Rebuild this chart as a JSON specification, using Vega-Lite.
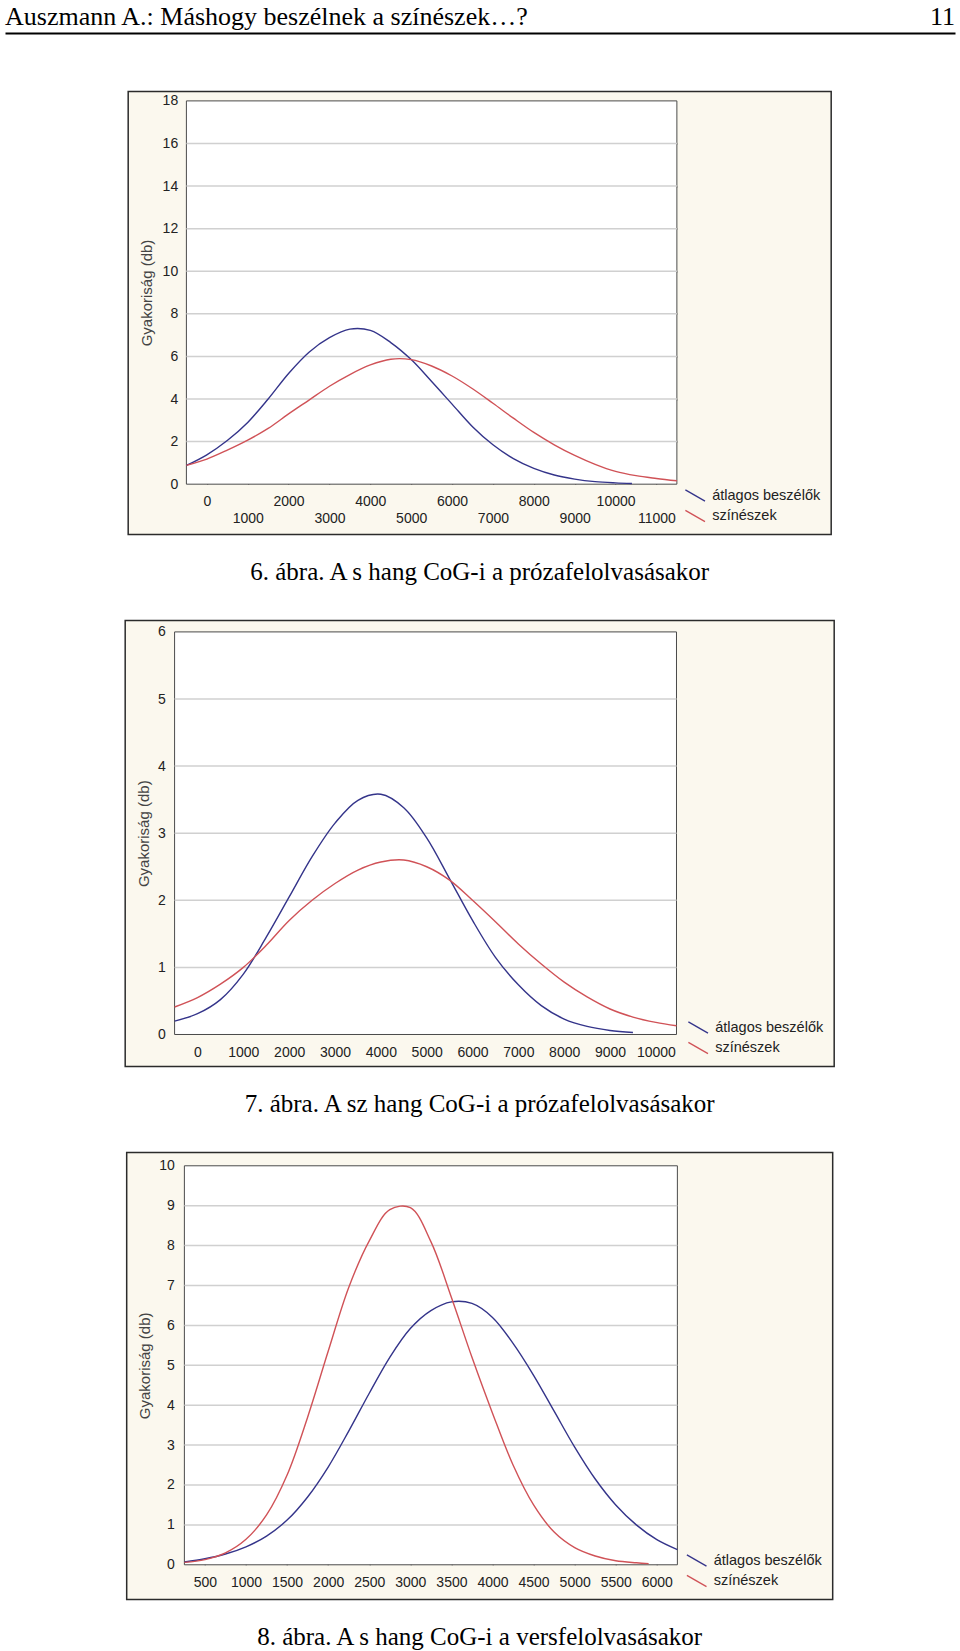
{
  "$schema": "https://vega.github.io/schema/vega-lite/v6.json",
  "background": "white",
  "padding": {"left": 5, "right": 5, "top": 0, "bottom": 0},
  "config": {
    "view": {"stroke": null},
    "axis": {"labelFont": "Liberation Sans", "titleFont": "Liberation Sans", "zindex": 1},
    "title": {"font": "Liberation Serif", "fontSize": 25, "fontWeight": "normal", "color": "#000000", "orient": "bottom", "anchor": "middle", "offset": 25},
    "legend": {"orient": "bottom-right", "offset": 10, "padding": 0, "symbolType": "M-1.4,-0.8L1.4,0.8", "symbolSize": 196, "symbolStrokeWidth": 1.3, "labelFont": "Liberation Sans", "labelFontSize": 14.5, "labelColor": "#222222", "labelOffset": 9, "rowPadding": 2.5}
  },
  "datasets": {
    "c1": [
      {"series": "átlagos beszélők", "freq": -500, "value": 0.88},
      {"series": "átlagos beszélők", "freq": 0, "value": 1.38},
      {"series": "átlagos beszélők", "freq": 500, "value": 2.05},
      {"series": "átlagos beszélők", "freq": 1000, "value": 2.9},
      {"series": "átlagos beszélők", "freq": 1500, "value": 4.0},
      {"series": "átlagos beszélők", "freq": 2000, "value": 5.2},
      {"series": "átlagos beszélők", "freq": 2500, "value": 6.2},
      {"series": "átlagos beszélők", "freq": 3000, "value": 6.88},
      {"series": "átlagos beszélők", "freq": 3500, "value": 7.28},
      {"series": "átlagos beszélők", "freq": 4000, "value": 7.22},
      {"series": "átlagos beszélők", "freq": 4500, "value": 6.65},
      {"series": "átlagos beszélők", "freq": 5000, "value": 5.85},
      {"series": "átlagos beszélők", "freq": 5500, "value": 4.82},
      {"series": "átlagos beszélők", "freq": 6000, "value": 3.76},
      {"series": "átlagos beszélők", "freq": 6500, "value": 2.7},
      {"series": "átlagos beszélők", "freq": 7000, "value": 1.85},
      {"series": "átlagos beszélők", "freq": 7500, "value": 1.2},
      {"series": "átlagos beszélők", "freq": 8000, "value": 0.74},
      {"series": "átlagos beszélők", "freq": 8500, "value": 0.43},
      {"series": "átlagos beszélők", "freq": 9000, "value": 0.24},
      {"series": "átlagos beszélők", "freq": 9500, "value": 0.12},
      {"series": "átlagos beszélők", "freq": 10000, "value": 0.06},
      {"series": "átlagos beszélők", "freq": 10400, "value": 0.03},
      {"series": "színészek", "freq": -500, "value": 0.88},
      {"series": "színészek", "freq": 0, "value": 1.18},
      {"series": "színészek", "freq": 500, "value": 1.6},
      {"series": "színészek", "freq": 1000, "value": 2.07},
      {"series": "színészek", "freq": 1500, "value": 2.62},
      {"series": "színészek", "freq": 2000, "value": 3.3},
      {"series": "színészek", "freq": 2500, "value": 3.95},
      {"series": "színészek", "freq": 3000, "value": 4.6},
      {"series": "színészek", "freq": 3500, "value": 5.15},
      {"series": "színészek", "freq": 4000, "value": 5.6},
      {"series": "színészek", "freq": 4500, "value": 5.87},
      {"series": "színészek", "freq": 5000, "value": 5.85},
      {"series": "színészek", "freq": 5500, "value": 5.55},
      {"series": "színészek", "freq": 6000, "value": 5.08},
      {"series": "színészek", "freq": 6500, "value": 4.48},
      {"series": "színészek", "freq": 7000, "value": 3.8},
      {"series": "színészek", "freq": 7500, "value": 3.1},
      {"series": "színészek", "freq": 8000, "value": 2.43},
      {"series": "színészek", "freq": 8500, "value": 1.85},
      {"series": "színészek", "freq": 9000, "value": 1.35},
      {"series": "színészek", "freq": 9500, "value": 0.93},
      {"series": "színészek", "freq": 10000, "value": 0.6},
      {"series": "színészek", "freq": 10500, "value": 0.4},
      {"series": "színészek", "freq": 11000, "value": 0.27},
      {"series": "színészek", "freq": 11500, "value": 0.16}
    ],
    "c2": [
      {"series": "átlagos beszélők", "freq": -500, "value": 0.2},
      {"series": "átlagos beszélők", "freq": 0, "value": 0.31},
      {"series": "átlagos beszélők", "freq": 500, "value": 0.52},
      {"series": "átlagos beszélők", "freq": 1000, "value": 0.9},
      {"series": "átlagos beszélők", "freq": 1500, "value": 1.45},
      {"series": "átlagos beszélők", "freq": 2000, "value": 2.05},
      {"series": "átlagos beszélők", "freq": 2500, "value": 2.65},
      {"series": "átlagos beszélők", "freq": 3000, "value": 3.15},
      {"series": "átlagos beszélők", "freq": 3500, "value": 3.49},
      {"series": "átlagos beszélők", "freq": 4000, "value": 3.58},
      {"series": "átlagos beszélők", "freq": 4500, "value": 3.38},
      {"series": "átlagos beszélők", "freq": 5000, "value": 2.93},
      {"series": "átlagos beszélők", "freq": 5500, "value": 2.32},
      {"series": "átlagos beszélők", "freq": 6000, "value": 1.7},
      {"series": "átlagos beszélők", "freq": 6500, "value": 1.15},
      {"series": "átlagos beszélők", "freq": 7000, "value": 0.74},
      {"series": "átlagos beszélők", "freq": 7500, "value": 0.43},
      {"series": "átlagos beszélők", "freq": 8000, "value": 0.23},
      {"series": "átlagos beszélők", "freq": 8500, "value": 0.12},
      {"series": "átlagos beszélők", "freq": 9000, "value": 0.06},
      {"series": "átlagos beszélők", "freq": 9500, "value": 0.03},
      {"series": "színészek", "freq": -500, "value": 0.41},
      {"series": "színészek", "freq": 0, "value": 0.55},
      {"series": "színészek", "freq": 500, "value": 0.75},
      {"series": "színészek", "freq": 1000, "value": 1.0},
      {"series": "színészek", "freq": 1500, "value": 1.33},
      {"series": "színészek", "freq": 2000, "value": 1.7},
      {"series": "színészek", "freq": 2500, "value": 2.0},
      {"series": "színészek", "freq": 3000, "value": 2.25},
      {"series": "színészek", "freq": 3500, "value": 2.45},
      {"series": "színészek", "freq": 4000, "value": 2.57},
      {"series": "színészek", "freq": 4500, "value": 2.6},
      {"series": "színészek", "freq": 5000, "value": 2.5},
      {"series": "színészek", "freq": 5500, "value": 2.3},
      {"series": "színészek", "freq": 6000, "value": 2.0},
      {"series": "színészek", "freq": 6500, "value": 1.68},
      {"series": "színészek", "freq": 7000, "value": 1.35},
      {"series": "színészek", "freq": 7500, "value": 1.05},
      {"series": "színészek", "freq": 8000, "value": 0.78},
      {"series": "színészek", "freq": 8500, "value": 0.56},
      {"series": "színészek", "freq": 9000, "value": 0.38},
      {"series": "színészek", "freq": 9500, "value": 0.26},
      {"series": "színészek", "freq": 10000, "value": 0.18},
      {"series": "színészek", "freq": 10450, "value": 0.13}
    ],
    "c3": [
      {"series": "átlagos beszélők", "freq": 250, "value": 0.07},
      {"series": "átlagos beszélők", "freq": 500, "value": 0.15},
      {"series": "átlagos beszélők", "freq": 750, "value": 0.27},
      {"series": "átlagos beszélők", "freq": 1000, "value": 0.45},
      {"series": "átlagos beszélők", "freq": 1250, "value": 0.72},
      {"series": "átlagos beszélők", "freq": 1500, "value": 1.12},
      {"series": "átlagos beszélők", "freq": 1750, "value": 1.7},
      {"series": "átlagos beszélők", "freq": 2000, "value": 2.45},
      {"series": "átlagos beszélők", "freq": 2250, "value": 3.35},
      {"series": "átlagos beszélők", "freq": 2500, "value": 4.3},
      {"series": "átlagos beszélők", "freq": 2750, "value": 5.2},
      {"series": "átlagos beszélők", "freq": 3000, "value": 5.92},
      {"series": "átlagos beszélők", "freq": 3250, "value": 6.37},
      {"series": "átlagos beszélők", "freq": 3500, "value": 6.59},
      {"series": "átlagos beszélők", "freq": 3750, "value": 6.55},
      {"series": "átlagos beszélők", "freq": 4000, "value": 6.2},
      {"series": "átlagos beszélők", "freq": 4250, "value": 5.55},
      {"series": "átlagos beszélők", "freq": 4500, "value": 4.75},
      {"series": "átlagos beszélők", "freq": 4750, "value": 3.85},
      {"series": "átlagos beszélők", "freq": 5000, "value": 2.95},
      {"series": "átlagos beszélők", "freq": 5250, "value": 2.15},
      {"series": "átlagos beszélők", "freq": 5500, "value": 1.5},
      {"series": "átlagos beszélők", "freq": 5750, "value": 1.0},
      {"series": "átlagos beszélők", "freq": 6000, "value": 0.63},
      {"series": "átlagos beszélők", "freq": 6250, "value": 0.38},
      {"series": "színészek", "freq": 250, "value": 0.06},
      {"series": "színészek", "freq": 500, "value": 0.13},
      {"series": "színészek", "freq": 750, "value": 0.3},
      {"series": "színészek", "freq": 1000, "value": 0.64},
      {"series": "színészek", "freq": 1250, "value": 1.25},
      {"series": "színészek", "freq": 1500, "value": 2.25},
      {"series": "színészek", "freq": 1750, "value": 3.7},
      {"series": "színészek", "freq": 2000, "value": 5.35},
      {"series": "színészek", "freq": 2250, "value": 6.95},
      {"series": "színészek", "freq": 2500, "value": 8.12},
      {"series": "színészek", "freq": 2750, "value": 8.9},
      {"series": "színészek", "freq": 3000, "value": 8.95},
      {"series": "színészek", "freq": 3250, "value": 8.1},
      {"series": "színészek", "freq": 3500, "value": 6.7},
      {"series": "színészek", "freq": 3750, "value": 5.2},
      {"series": "színészek", "freq": 4000, "value": 3.8},
      {"series": "színészek", "freq": 4250, "value": 2.5},
      {"series": "színészek", "freq": 4500, "value": 1.5},
      {"series": "színészek", "freq": 4750, "value": 0.82},
      {"series": "színészek", "freq": 5000, "value": 0.43},
      {"series": "színészek", "freq": 5250, "value": 0.22},
      {"series": "színészek", "freq": 5500, "value": 0.1},
      {"series": "színészek", "freq": 5750, "value": 0.05},
      {"series": "színészek", "freq": 5900, "value": 0.03}
    ]
  },
  "spacing": 57.5,
  "center": true,
  "resolve": {"legend": {"color": "independent"}},
  "vconcat": [
    {
      "width": 950,
      "height": 25,
      "layer": [
        {
          "data": {"values": [{"t": "Auszmann A.: Máshogy beszélnek a színészek…?"}]},
          "mark": {"type": "text", "align": "left", "baseline": "alphabetic", "font": "Liberation Serif", "fontSize": 26, "color": "#000000"},
          "encoding": {
            "text": {"field": "t", "type": "nominal"},
            "x": {"datum": 0, "type": "quantitative", "scale": {"domain": [0, 1], "nice": false, "zero": false}, "axis": {"orient": "bottom", "offset": 8, "domain": true, "domainColor": "#000000", "domainWidth": 2, "ticks": false, "labels": false, "grid": false, "title": null}},
            "y": {"datum": 0, "type": "quantitative", "scale": {"domain": [0, 1], "nice": false}, "axis": null}
          }
        },
        {
          "data": {"values": [{"t": "11"}]},
          "mark": {"type": "text", "align": "right", "baseline": "alphabetic", "font": "Liberation Serif", "fontSize": 26, "color": "#000000"},
          "encoding": {
            "text": {"field": "t", "type": "nominal"},
            "x": {"datum": 1, "type": "quantitative", "scale": {"domain": [0, 1], "nice": false, "zero": false}, "axis": {"orient": "bottom", "offset": 8, "domain": true, "domainColor": "#000000", "domainWidth": 2, "ticks": false, "labels": false, "grid": false, "title": null}},
            "y": {"datum": 0, "type": "quantitative", "scale": {"domain": [0, 1], "nice": false}, "axis": null}
          }
        }
      ]
    },
    {
      "spacing": 34,
      "center": true,
      "resolve": {"legend": {"color": "independent"}},
      "vconcat": [
        {
          "width": 703,
          "height": 443,
          "view": {"fill": "#fbf8ee", "stroke": "#2b2b2b", "strokeWidth": 1.5},
          "title": {"text": "6. ábra. A s hang CoG-i a prózafelolvasásakor"},
          "resolve": {"axis": {"x": "independent", "y": "independent"}},
          "layer": [
            {
              "data": {"values": [{}]},
              "mark": {"type": "rect", "fill": "#ffffff", "stroke": "#4a4a4a", "strokeWidth": 1},
              "encoding": {
                "x": {"datum": -500, "type": "quantitative", "scale": {"domain": [-1924, 15275], "nice": false, "zero": false},
                  "axis": {"orient": "bottom", "offset": -53.3, "values": [0, 1000, 2000, 3000, 4000, 5000, 6000, 7000, 8000, 9000, 10000, 11000], "format": "d", "labelExpr": "datum.value % 2000 === 0 ? datum.label : ['', datum.label]", "labelLineHeight": 16.6, "domain": false, "grid": false, "ticks": true, "tickSize": 3, "tickColor": "#333333", "tickWidth": 1, "labelFontSize": 14, "labelColor": "#222222", "labelPadding": 10.5, "labelOverlap": false, "labelFlush": false, "title": null}},
                "x2": {"datum": 11500},
                "y": {"datum": 0, "type": "quantitative", "scale": {"domain": [-2.363, 18.441], "nice": false, "zero": false},
                  "axis": {"orient": "left", "offset": -58.2, "values": [0, 2, 4, 6, 8, 10, 12, 14, 16, 18], "domain": false, "grid": false, "ticks": false, "labelFontSize": 14, "labelColor": "#222222", "labelPadding": 8.7, "title": "Gyakoriság (db)", "titleFontSize": 15, "titleFontWeight": "normal", "titleColor": "#444444", "titleX": -32, "titleY": 201}},
                "y2": {"datum": 18}
              }
            },
            {
              "data": {"values": [{"g": 2}, {"g": 4}, {"g": 6}, {"g": 8}, {"g": 10}, {"g": 12}, {"g": 14}, {"g": 16}]},
              "mark": {"type": "rule", "color": "#d0d0d0", "strokeWidth": 1.5},
              "encoding": {
                "y": {"field": "g", "type": "quantitative", "scale": {"domain": [-2.363, 18.441], "nice": false, "zero": false}, "axis": null},
                "x": {"datum": -500, "type": "quantitative", "scale": {"domain": [-1924, 15275], "nice": false, "zero": false}, "axis": null},
                "x2": {"datum": 11500}
              }
            },
            {
              "data": {"name": "c1"},
              "mark": {"type": "line", "strokeWidth": 1.4, "interpolate": "catmull-rom"},
              "encoding": {
                "x": {"field": "freq", "type": "quantitative", "scale": {"domain": [-1924, 15275], "nice": false, "zero": false},
                  "axis": {"orient": "top", "offset": -12.4, "values": [0, 1000, 2000, 3000, 4000, 5000, 6000, 7000, 8000, 9000, 10000, 11000], "domain": false, "labels": false, "grid": false, "ticks": true, "tickSize": 3, "tickColor": "#333333", "title": null}},
                "y": {"field": "value", "type": "quantitative", "scale": {"domain": [-2.363, 18.441], "nice": false, "zero": false},
                  "axis": {"orient": "right", "offset": -157.3, "values": [2, 4, 6, 8, 10, 12, 14, 16], "domain": false, "labels": false, "grid": false, "ticks": true, "tickSize": 3, "tickColor": "#333333", "title": null}},
                "color": {"field": "series", "type": "nominal", "scale": {"domain": ["átlagos beszélők", "színészek"], "range": ["#34348a", "#d05257"]}, "legend": {"title": null}}
              }
            }
          ]
        },
        {
          "width": 709,
          "height": 446,
          "view": {"fill": "#fbf8ee", "stroke": "#2b2b2b", "strokeWidth": 1.5},
          "title": {"text": "7. ábra. A sz hang CoG-i a prózafelolvasásakor"},
          "resolve": {"axis": {"x": "independent", "y": "independent"}},
          "layer": [
            {
              "data": {"values": [{}]},
              "mark": {"type": "rect", "fill": "#ffffff", "stroke": "#4a4a4a", "strokeWidth": 1},
              "encoding": {
                "x": {"datum": -500, "type": "quantitative", "scale": {"domain": [-1577.8, 13890.4], "nice": false, "zero": false},
                  "axis": {"orient": "bottom", "offset": -35, "values": [0, 1000, 2000, 3000, 4000, 5000, 6000, 7000, 8000, 9000, 10000], "format": "d", "domain": false, "grid": false, "ticks": true, "tickSize": 3, "tickColor": "#333333", "tickWidth": 1, "labelFontSize": 14, "labelColor": "#222222", "labelPadding": 10.5, "labelOverlap": false, "labelFlush": false, "title": null}},
                "x2": {"datum": 10450},
                "y": {"datum": 0, "type": "quantitative", "scale": {"domain": [-0.477, 6.17], "nice": false, "zero": false},
                  "axis": {"orient": "left", "offset": -49.4, "values": [0, 1, 2, 3, 4, 5, 6], "domain": false, "grid": false, "ticks": false, "labelFontSize": 14, "labelColor": "#222222", "labelPadding": 9.3, "title": "Gyakoriság (db)", "titleFontSize": 15, "titleFontWeight": "normal", "titleColor": "#444444", "titleX": -23, "titleY": 212.7}},
                "y2": {"datum": 6}
              }
            },
            {
              "data": {"values": [{"g": 1}, {"g": 2}, {"g": 3}, {"g": 4}, {"g": 5}]},
              "mark": {"type": "rule", "color": "#d0d0d0", "strokeWidth": 1.5},
              "encoding": {
                "y": {"field": "g", "type": "quantitative", "scale": {"domain": [-0.477, 6.17], "nice": false, "zero": false}, "axis": null},
                "x": {"datum": -500, "type": "quantitative", "scale": {"domain": [-1577.8, 13890.4], "nice": false, "zero": false}, "axis": null},
                "x2": {"datum": 10450}
              }
            },
            {
              "data": {"name": "c2"},
              "mark": {"type": "line", "strokeWidth": 1.4, "interpolate": "catmull-rom"},
              "encoding": {
                "x": {"field": "freq", "type": "quantitative", "scale": {"domain": [-1577.8, 13890.4], "nice": false, "zero": false},
                  "axis": {"orient": "top", "offset": -14.4, "values": [0, 1000, 2000, 3000, 4000, 5000, 6000, 7000, 8000, 9000, 10000], "domain": false, "labels": false, "grid": false, "ticks": true, "tickSize": 3, "tickColor": "#333333", "title": null}},
                "y": {"field": "value", "type": "quantitative", "scale": {"domain": [-0.477, 6.17], "nice": false, "zero": false},
                  "axis": {"orient": "right", "offset": -160.7, "values": [1, 2, 3, 4, 5], "domain": false, "labels": false, "grid": false, "ticks": true, "tickSize": 3, "tickColor": "#333333", "title": null}},
                "color": {"field": "series", "type": "nominal", "scale": {"domain": ["átlagos beszélők", "színészek"], "range": ["#34348a", "#d05257"]}, "legend": {"title": null}}
              }
            }
          ]
        },
        {
          "width": 706,
          "height": 447,
          "view": {"fill": "#fbf8ee", "stroke": "#2b2b2b", "strokeWidth": 1.5},
          "title": {"text": "8. ábra. A s hang CoG-i a versfelolvasásakor"},
          "resolve": {"axis": {"x": "independent", "y": "independent"}},
          "layer": [
            {
              "data": {"values": [{}]},
              "mark": {"type": "rect", "fill": "#ffffff", "stroke": "#4a4a4a", "strokeWidth": 1},
              "encoding": {
                "x": {"datum": 250, "type": "quantitative", "scale": {"domain": [-452.2, 8140.1], "nice": false, "zero": false},
                  "axis": {"orient": "bottom", "offset": -37.7, "values": [500, 1000, 1500, 2000, 2500, 3000, 3500, 4000, 4500, 5000, 5500, 6000], "format": "d", "domain": false, "grid": false, "ticks": true, "tickSize": 3, "tickColor": "#333333", "tickWidth": 1, "labelFontSize": 14, "labelColor": "#222222", "labelPadding": 11, "labelOverlap": false, "labelFlush": false, "title": null}},
                "x2": {"datum": 6250},
                "y": {"datum": 0, "type": "quantitative", "scale": {"domain": [-0.87, 10.333], "nice": false, "zero": false},
                  "axis": {"orient": "left", "offset": -57.7, "values": [0, 1, 2, 3, 4, 5, 6, 7, 8, 9, 10], "domain": false, "grid": false, "ticks": false, "labelFontSize": 14, "labelColor": "#222222", "labelPadding": 10, "title": "Gyakoriság (db)", "titleFontSize": 15, "titleFontWeight": "normal", "titleColor": "#444444", "titleX": -31.6, "titleY": 212.8}},
                "y2": {"datum": 10}
              }
            },
            {
              "data": {"values": [{"g": 1}, {"g": 2}, {"g": 3}, {"g": 4}, {"g": 5}, {"g": 6}, {"g": 7}, {"g": 8}, {"g": 9}]},
              "mark": {"type": "rule", "color": "#d0d0d0", "strokeWidth": 1.5},
              "encoding": {
                "y": {"field": "g", "type": "quantitative", "scale": {"domain": [-0.87, 10.333], "nice": false, "zero": false}, "axis": null},
                "x": {"datum": 250, "type": "quantitative", "scale": {"domain": [-452.2, 8140.1], "nice": false, "zero": false}, "axis": null},
                "x2": {"datum": 6250}
              }
            },
            {
              "data": {"name": "c3"},
              "mark": {"type": "line", "strokeWidth": 1.4, "interpolate": "catmull-rom"},
              "encoding": {
                "x": {"field": "freq", "type": "quantitative", "scale": {"domain": [-452.2, 8140.1], "nice": false, "zero": false},
                  "axis": {"orient": "top", "offset": -16.3, "values": [500, 1000, 1500, 2000, 2500, 3000, 3500, 4000, 4500, 5000, 5500, 6000], "domain": false, "labels": false, "grid": false, "ticks": true, "tickSize": 3, "tickColor": "#333333", "title": null}},
                "y": {"field": "value", "type": "quantitative", "scale": {"domain": [-0.87, 10.333], "nice": false, "zero": false},
                  "axis": {"orient": "right", "offset": -158.3, "values": [1, 2, 3, 4, 5, 6, 7, 8, 9], "domain": false, "labels": false, "grid": false, "ticks": true, "tickSize": 3, "tickColor": "#333333", "title": null}},
                "color": {"field": "series", "type": "nominal", "scale": {"domain": ["átlagos beszélők", "színészek"], "range": ["#34348a", "#d05257"]}, "legend": {"title": null}}
              }
            }
          ]
        }
      ]
    }
  ]
}
